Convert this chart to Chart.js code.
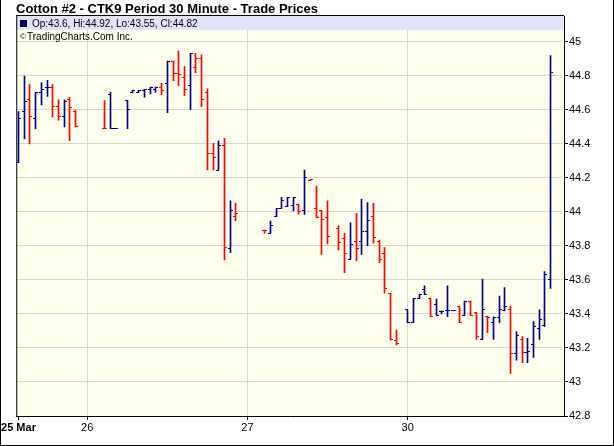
<!DOCTYPE html>
<html>
<head>
<meta charset="utf-8">
<script src="https://cdn.jsdelivr.net/npm/chart.js@4.4.1/dist/chart.umd.min.js"></script>
<style>
  html, body { margin: 0; padding: 0; background: #fff; }
  #wrap { width: 614px; height: 446px; position: relative; }
</style>
</head>
<body>
<div id="wrap"><canvas id="chart" width="614" height="446"></canvas></div>
<script>
/////////////////////////// data ///////////////////////////
// one slot = 30 minutes, 28 slots per trading day
var slots  = [0,1,2,3,4,5,6,7,8,9,10,
              15,16,17,19,20,21,22,23,24,25,26,27,28,29,30,31,32,33,34,35,36,37,38,
              43,44,45,46,47,48,49,50,51,52,53,54,56,57,58,59,60,61,62,63,64,65,66,
              68,69,70,71,72,73,74,75,76,77,78,79,80,81,82,83,84,85,86,87,88,89,90,91,92,93];
var opens  = [44.29,44.59,44.66,44.55,44.70,44.73,44.73,44.62,44.56,44.66,44.59,
              44.49,44.69,44.49,44.655,44.70,44.705,44.715,44.72,44.72,44.73,44.753,44.888,44.816,44.792,44.747,44.849,44.904,44.704,44.345,44.247,44.394,43.786,43.976,
              43.894,43.875,43.973,44.022,44.031,44.04,44.047,44.008,44.186,44.022,44.006,43.967,43.904,43.845,43.722,43.825,43.825,43.888,43.976,43.825,43.753,43.522,43.247,
              43.424,43.351,43.492,43.545,43.494,43.453,43.414,43.418,43.418,43.443,43.394,43.476,43.408,43.251,43.388,43.351,43.380,43.418,43.424,43.165,43.251,43.173,43.218,43.316,43.335,43.60];
var highs  = [44.59,44.80,44.75,44.70,44.76,44.775,44.75,44.66,44.66,44.675,44.60,
              44.655,44.705,44.49,44.655,44.715,44.715,44.72,44.735,44.735,44.757,44.888,44.888,44.947,44.855,44.933,44.933,44.924,44.724,44.404,44.418,44.433,44.065,44.051,
              43.894,43.947,44.022,44.086,44.086,44.086,44.047,44.247,44.192,44.153,44.006,44.065,43.918,43.874,43.937,43.992,44.076,44.055,44.051,43.835,43.790,43.522,43.306,
              43.424,43.492,43.516,43.565,43.494,43.488,43.418,43.565,43.418,43.443,43.476,43.476,43.408,43.606,43.388,43.384,43.506,43.555,43.447,43.296,43.267,43.257,43.355,43.424,43.649,44.92];
var lows   = [44.29,44.43,44.40,44.49,44.63,44.68,44.56,44.54,44.50,44.42,44.50,
              44.49,44.49,44.49,44.49,44.70,44.705,44.675,44.695,44.705,44.69,44.584,44.773,44.743,44.684,44.602,44.820,44.620,44.247,44.247,44.247,43.718,43.761,43.949,
              43.875,43.875,43.973,44.022,44.031,44.006,43.988,43.986,44.186,43.967,43.751,43.812,43.777,43.643,43.722,43.714,43.751,43.802,43.816,43.702,43.522,43.247,43.218,
              43.351,43.351,43.492,43.516,43.384,43.394,43.40,43.384,43.418,43.349,43.394,43.394,43.251,43.251,43.290,43.251,43.349,43.418,43.051,43.129,43.114,43.114,43.145,43.251,43.325,43.55];
var closes = [44.55,44.65,44.56,44.70,44.72,44.73,44.62,44.56,44.65,44.615,44.505,
              44.49,44.49,44.49,44.605,44.715,44.715,44.72,44.735,44.735,44.716,44.888,44.816,44.808,44.722,44.933,44.904,44.663,44.345,44.322,44.394,43.792,44.006,43.992,
              43.894,43.922,44.022,44.065,44.086,44.086,44.002,44.204,44.192,43.967,43.953,43.855,43.82,43.753,43.806,43.786,43.888,43.949,43.849,43.722,43.551,43.251,43.224,
              43.351,43.492,43.516,43.516,43.384,43.394,43.414,43.418,43.418,43.349,43.476,43.394,43.267,43.424,43.378,43.380,43.424,43.443,43.165,43.276,43.173,43.178,43.325,43.365,43.635,44.82];

var dayTicks  = [0, 12, 40, 68];
var dayLabels = ['25 Mar', '26', '27', '30'];
var priceTicks = [42.8, 43, 43.2, 43.4, 43.6, 43.8, 44, 44.2, 44.4, 44.6, 44.8, 45];
////////////////////////////////////////////////////////////

var UP = '#000080';
var DOWN = '#ff0000';
var FONT = "'Liberation Sans', Arial, sans-serif";

// bar colour: close against previous close
var colors = closes.map(function (c, i) {
    if (i === 0) return UP;
    return c >= closes[i - 1] ? UP : DOWN;
});

var rangeData = slots.map(function (s, i) {
    return { x: s, y: [lows[i], highs[i]] };
});

// plot background + legend band + frame, open/close ticks
var ohlcPlugin = {
    id: 'ohlc',
    beforeDraw: function (chart) {
        var c = chart.ctx, a = chart.chartArea;
        c.save();
        c.fillStyle = '#ffffff';
        c.fillRect(0, 0, chart.width, chart.height);
        c.fillStyle = '#ffffee';
        c.fillRect(a.left, a.top, a.right - a.left, a.bottom - a.top);
        c.restore();
    },
    beforeDatasetsDraw: function (chart) {
        var c = chart.ctx, a = chart.chartArea;
        c.save();
        c.fillStyle = '#e2e2f8';
        c.fillRect(a.left, a.top, a.right - a.left, 14);
        c.restore();
        // keep the 1px high-low bars on whole pixels
        chart.getDatasetMeta(0).data.forEach(function (el) {
            el.x = Math.round(el.x - 0.5) + 0.5;
        });
    },
    afterDatasetsDraw: function (chart) {
        var c = chart.ctx;
        var ys = chart.scales.y;
        var bars = chart.getDatasetMeta(0).data;
        c.save();
        bars.forEach(function (el, i) {
            var col = Math.round(el.x - 0.5);
            var yo = Math.round(ys.getPixelForValue(opens[i]) - 0.5);
            var yc = Math.round(ys.getPixelForValue(closes[i]) - 0.5);
            c.fillStyle = colors[i];
            c.fillRect(col - 2, yo, 3, 1);
            c.fillRect(col, yc, 3, 1);
        });
        c.restore();
    },
    afterDraw: function (chart) {
        var c = chart.ctx, a = chart.chartArea;
        c.save();
        // plot frame
        c.fillStyle = '#000';
        c.fillRect(a.left, a.top - 1, 1, a.bottom - a.top + 1);
        c.fillRect(a.left, a.top - 1, a.right - a.left, 1);
        // outer border (no top line)
        c.fillRect(0, 0, 1, chart.height);
        c.fillRect(chart.width - 1, 0, 1, chart.height);
        c.fillRect(0, chart.height - 1, chart.width, 1);

        // title
        c.fillStyle = '#000';
        c.font = 'bold 13px ' + FONT;
        c.textBaseline = 'alphabetic';
        c.fillText('Cotton #2 - CTK9 Period 30 Minute - Trade Prices', 16, 13);

        // legend rows
        var last = slots.length - 1;
        c.fillStyle = UP;
        c.fillRect(20, 20, 7, 7);
        c.strokeStyle = '#000';
        c.lineWidth = 1;
        c.strokeRect(20.5, 20.5, 6, 6);
        c.fillStyle = '#000';
        c.font = '10px ' + FONT;
        c.fillText('Op:' + opens[last] + ', Hi:' + highs[last] + ', Lo:' + lows[last] + ', Cl:' + closes[last], 32, 27);
        c.font = '8px ' + FONT;
        c.fillText('\u00a9', 20, 39);
        c.font = '10px ' + FONT;
        c.fillText('TradingCharts.Com Inc.', 27, 40);
        c.restore();
    }
};

var ctx = document.getElementById('chart').getContext('2d');
var chart = new Chart(ctx, {
    type: 'bar',
    data: {
        datasets: [{
            data: rangeData,
            backgroundColor: colors,
            borderWidth: 0,
            barThickness: 1,
            grouped: false
        }]
    },
    options: {
        responsive: false,
        animation: false,
        events: [],
        layout: { padding: { left: 15, top: 16, right: 0, bottom: 0 } },
        plugins: {
            legend: { display: false },
            tooltip: { enabled: false },
            title: { display: false }
        },
        scales: {
            x: {
                type: 'linear',
                offset: false,
                min: -0.39,
                max: 95.32,
                afterBuildTicks: function (scale) {
                    scale.ticks = dayTicks.map(function (v) { return { value: v }; });
                },
                afterFit: function (scale) { scale.height = 30; },
                grid: {
                    offset: false,
                    color: function (c) { return c.index === 0 ? 'rgba(0,0,0,0)' : '#d8d8d0'; },
                    tickColor: '#000',
                    tickLength: 4,
                    lineWidth: 1
                },
                border: { color: '#000', width: 1 },
                ticks: {
                    autoSkip: false,
                    maxRotation: 0,
                    padding: 1,
                    color: '#000',
                    font: function (c) {
                        return { family: FONT, size: 11, weight: c.index === 0 ? 'bold' : 'normal' };
                    },
                    callback: function (v, i) { return dayLabels[i]; }
                }
            },
            y: {
                type: 'linear',
                position: 'right',
                min: 42.8,
                max: 42.8 + 400 / 170,
                afterBuildTicks: function (scale) {
                    scale.ticks = priceTicks.map(function (v) { return { value: v }; });
                },
                afterFit: function (scale) { scale.width = 50; },
                grid: {
                    color: '#d8d8d0',
                    tickColor: '#000',
                    tickLength: 4,
                    lineWidth: 1
                },
                border: { color: '#000', width: 1 },
                ticks: {
                    padding: 1,
                    color: '#000',
                    font: { family: FONT, size: 11 },
                    callback: function (v) { return String(+v.toFixed(1)); }
                }
            }
        }
    },
    plugins: [ohlcPlugin]
});
</script>
</body>
</html>
